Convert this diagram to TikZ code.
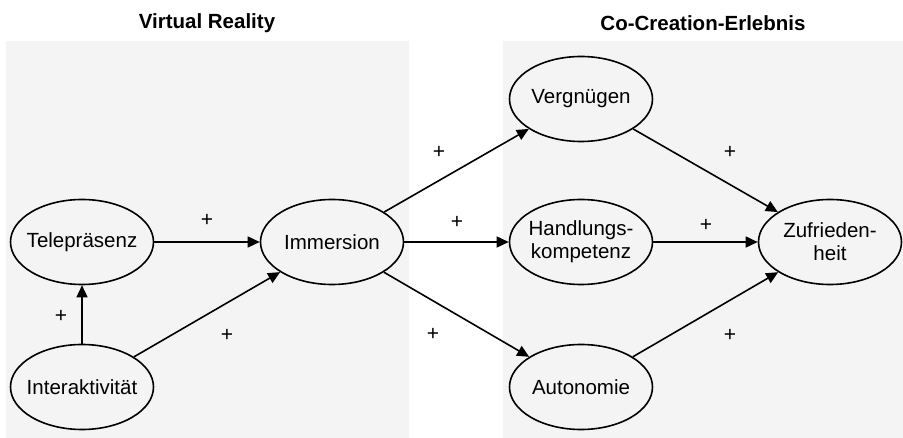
\documentclass[tikz,border=0pt]{standalone}
\usepackage{fontspec}
\setmainfont{Liberation Sans}
\usetikzlibrary{shapes.geometric,arrows.meta}
\definecolor{panelbg}{HTML}{F4F4F4}
\tikzset{
  construct/.style={ellipse,draw=black,line width=1.6pt,fill=panelbg,minimum width=143pt,minimum height=85pt,inner xsep=-20pt,inner ysep=0pt,align=center,font=\fontsize{20.5}{23}\selectfont},
  path/.style={line width=1.6pt,-{Triangle[length=12pt,width=11pt]}},
  sign/.style={font=\fontsize{21}{22}\selectfont},
  paneltitle/.style={font=\bfseries\fontsize{20.5}{23}\selectfont}
}
\begin{document}
\begin{tikzpicture}[x=1pt,y=-1pt]
\useasboundingbox[fill=white] (0,0) rectangle (903,438);
\fill[panelbg] (6,41) rectangle (409,438);
\fill[panelbg] (503,41) rectangle (903,438);
\node[paneltitle] (t1) at (207,23) {Virtual Reality};
\node[paneltitle] (t2) at (703,23) {Co-Creation-Erlebnis};
\node[construct] (tele) at (82,242) {Telepräsenz};
\node[construct] (imm) at (332,242) {Immersion};
\node[construct] (int) at (82,387) {Interaktivität};
\node[construct] (verg) at (581,99) {Vergnügen};
\node[construct] (hand) at (581,242) {Handlungs-\\kompetenz};
\node[construct] (auto) at (581,387) {Autonomie};
\node[construct] (zuf) at (830,242) {Zufrieden-\\heit};
\draw[path] (tele) -- (imm);
\draw[path] (int) -- (tele);
\draw[path] (int) -- (imm);
\draw[path] (imm) -- (verg);
\draw[path] (imm) -- (hand);
\draw[path] (imm) -- (auto);
\draw[path] (verg) -- (zuf);
\draw[path] (hand) -- (zuf);
\draw[path] (auto) -- (zuf);
\node[sign] (s1) at (207,220) {+};
\node[sign] (s2) at (61,316) {+};
\node[sign] (s3) at (227,335) {+};
\node[sign] (s4) at (439,152) {+};
\node[sign] (s5) at (457,222) {+};
\node[sign] (s6) at (433,334) {+};
\node[sign] (s7) at (730,152) {+};
\node[sign] (s8) at (706,225) {+};
\node[sign] (s9) at (730,335) {+};
\end{tikzpicture}
\end{document}
